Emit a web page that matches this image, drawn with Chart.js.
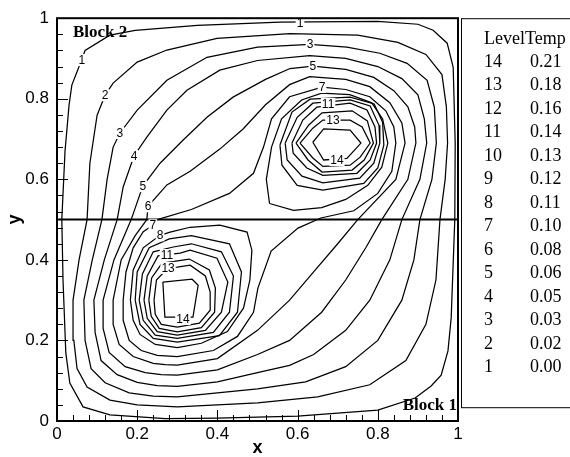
<!DOCTYPE html>
<html lang="en">
<head>
<meta charset="UTF-8">
<title>Temperature contours</title>
<script src="https://cdn.jsdelivr.net/npm/chart.js"></script>
<style>
  body { margin: 0; background: #fff; }
  #chart { display: block; }
</style>
</head>
<body>
<canvas id="chart" width="570" height="457"></canvas>
<script>
// contour lines, [x, y] pairs
const level1 = [[0.012,0.5],[0.02,0.67],[0.03,0.784],[0.037,0.834],[0.057,0.885],[0.07,0.92],[0.132,0.958],[0.195,0.97],[0.35,0.982],[0.556,0.99],[0.8,0.992],[0.9,0.985],[0.938,0.97],[0.973,0.938],[0.988,0.878],[0.993,0.69],[0.992,0.5],[0.983,0.256],[0.975,0.174],[0.958,0.114],[0.933,0.087],[0.893,0.057],[0.8,0.027],[0.6,0.012],[0.4,0.007],[0.27,0.006],[0.132,0.015],[0.065,0.035],[0.032,0.094],[0.022,0.169],[0.015,0.35],[0.012,0.5]];
const level2 = [[0.075,0.5],[0.082,0.64],[0.1,0.759],[0.12,0.809],[0.14,0.839],[0.2,0.891],[0.274,0.921],[0.399,0.95],[0.581,0.962],[0.75,0.958],[0.85,0.94],[0.92,0.91],[0.96,0.86],[0.971,0.78],[0.974,0.69],[0.968,0.6],[0.955,0.5],[0.945,0.35],[0.92,0.24],[0.87,0.15],[0.78,0.09],[0.65,0.06],[0.5,0.045],[0.3,0.035],[0.2,0.04],[0.132,0.052],[0.075,0.084],[0.05,0.13],[0.042,0.2],[0.04,0.3],[0.055,0.4],[0.075,0.5]];
const level3 = [[0.112,0.5],[0.125,0.6],[0.14,0.68],[0.157,0.715],[0.2,0.772],[0.274,0.846],[0.374,0.903],[0.5,0.928],[0.631,0.935],[0.723,0.928],[0.805,0.913],[0.873,0.888],[0.923,0.846],[0.941,0.779],[0.946,0.69],[0.935,0.6],[0.905,0.5],[0.89,0.4],[0.86,0.3],[0.8,0.2],[0.72,0.135],[0.62,0.097],[0.5,0.08],[0.3,0.06],[0.24,0.062],[0.18,0.07],[0.12,0.095],[0.085,0.13],[0.07,0.2],[0.067,0.3],[0.088,0.4],[0.112,0.5]];
const level4 = [[0.15,0.5],[0.165,0.581],[0.192,0.658],[0.224,0.705],[0.274,0.772],[0.324,0.821],[0.406,0.871],[0.5,0.895],[0.63,0.907],[0.72,0.9],[0.8,0.88],[0.86,0.85],[0.9,0.81],[0.916,0.75],[0.922,0.69],[0.905,0.6],[0.86,0.5],[0.83,0.4],[0.78,0.3],[0.72,0.225],[0.64,0.165],[0.58,0.138],[0.5,0.12],[0.4,0.097],[0.3,0.086],[0.25,0.088],[0.2,0.096],[0.15,0.115],[0.11,0.15],[0.095,0.22],[0.092,0.3],[0.118,0.4],[0.15,0.5]];
const level5 = [[0.185,0.5],[0.214,0.583],[0.257,0.64],[0.314,0.697],[0.374,0.754],[0.439,0.804],[0.52,0.848],[0.581,0.875],[0.638,0.881],[0.72,0.873],[0.79,0.853],[0.84,0.82],[0.875,0.78],[0.892,0.73],[0.895,0.69],[0.875,0.6],[0.81,0.5],[0.77,0.43],[0.72,0.35],[0.66,0.27],[0.58,0.2],[0.5,0.165],[0.4,0.127],[0.3,0.114],[0.26,0.115],[0.22,0.12],[0.17,0.135],[0.13,0.17],[0.115,0.23],[0.115,0.3],[0.142,0.4],[0.185,0.5]];
const level6 = [[0.224,0.5],[0.227,0.533],[0.274,0.586],[0.332,0.62],[0.406,0.675],[0.464,0.725],[0.52,0.785],[0.58,0.835],[0.63,0.855],[0.72,0.848],[0.78,0.83],[0.83,0.79],[0.86,0.74],[0.868,0.69],[0.845,0.6],[0.75,0.5],[0.7,0.44],[0.64,0.37],[0.58,0.3],[0.5,0.225],[0.4,0.155],[0.3,0.139],[0.27,0.14],[0.24,0.143],[0.19,0.16],[0.155,0.19],[0.14,0.24],[0.14,0.3],[0.16,0.4],[0.195,0.46],[0.224,0.5]];
const level7 = [[0.25,0.5],[0.335,0.525],[0.43,0.565],[0.49,0.615],[0.515,0.68],[0.535,0.75],[0.58,0.805],[0.661,0.829],[0.72,0.823],[0.78,0.805],[0.82,0.77],[0.84,0.73],[0.845,0.69],[0.835,0.62],[0.8,0.565],[0.74,0.522],[0.658,0.504],[0.601,0.479],[0.534,0.422],[0.501,0.33],[0.49,0.27],[0.45,0.21],[0.39,0.175],[0.3,0.16],[0.25,0.163],[0.21,0.175],[0.18,0.2],[0.165,0.25],[0.165,0.3],[0.172,0.37],[0.19,0.43],[0.215,0.47],[0.239,0.486],[0.25,0.5]];
// upper hot spot
const level8up = [[0.53,0.54],[0.522,0.6],[0.535,0.68],[0.56,0.75],[0.61,0.797],[0.66,0.814],[0.73,0.81],[0.785,0.79],[0.812,0.75],[0.825,0.69],[0.81,0.63],[0.775,0.585],[0.72,0.55],[0.66,0.53],[0.59,0.523],[0.53,0.54]];
const level9up = [[0.556,0.685],[0.586,0.767],[0.631,0.799],[0.731,0.804],[0.791,0.787],[0.812,0.742],[0.815,0.685],[0.8,0.628],[0.765,0.59],[0.663,0.573],[0.599,0.585],[0.561,0.635],[0.556,0.685]];
const level10up = [[0.569,0.69],[0.599,0.754],[0.638,0.789],[0.731,0.797],[0.781,0.782],[0.803,0.734],[0.805,0.69],[0.79,0.64],[0.755,0.603],[0.663,0.591],[0.611,0.608],[0.574,0.648],[0.569,0.69]];
const level11up = [[0.586,0.69],[0.613,0.747],[0.648,0.779],[0.731,0.789],[0.773,0.772],[0.793,0.73],[0.797,0.69],[0.781,0.648],[0.748,0.615],[0.663,0.61],[0.623,0.628],[0.589,0.665],[0.586,0.69]];
const level12up = [[0.596,0.69],[0.628,0.735],[0.661,0.765],[0.736,0.77],[0.774,0.745],[0.789,0.69],[0.766,0.648],[0.736,0.623],[0.661,0.618],[0.626,0.648],[0.596,0.69]];
const level13up = [[0.606,0.69],[0.638,0.727],[0.663,0.747],[0.731,0.747],[0.761,0.73],[0.781,0.69],[0.756,0.655],[0.731,0.635],[0.663,0.632],[0.638,0.653],[0.606,0.69]];
const level14up = [[0.638,0.692],[0.665,0.725],[0.731,0.722],[0.758,0.69],[0.723,0.652],[0.665,0.648],[0.638,0.692]];
// lower hot spot
const level8low = [[0.183,0.3],[0.19,0.375],[0.215,0.43],[0.257,0.461],[0.282,0.469],[0.332,0.481],[0.406,0.486],[0.474,0.469],[0.486,0.424],[0.481,0.35],[0.465,0.28],[0.425,0.222],[0.36,0.193],[0.3,0.182],[0.245,0.19],[0.207,0.215],[0.19,0.25],[0.183,0.3]];
const level9low = [[0.195,0.3],[0.2,0.37],[0.23,0.43],[0.28,0.452],[0.335,0.46],[0.43,0.44],[0.46,0.37],[0.45,0.27],[0.405,0.212],[0.3,0.196],[0.24,0.205],[0.207,0.24],[0.195,0.3]];
const level10low = [[0.205,0.3],[0.213,0.365],[0.24,0.42],[0.29,0.432],[0.335,0.44],[0.41,0.42],[0.44,0.36],[0.43,0.27],[0.39,0.22],[0.3,0.205],[0.245,0.213],[0.215,0.25],[0.205,0.3]];
const level11low = [[0.217,0.3],[0.225,0.36],[0.252,0.41],[0.307,0.417],[0.332,0.424],[0.399,0.404],[0.426,0.345],[0.41,0.27],[0.37,0.225],[0.3,0.213],[0.25,0.222],[0.225,0.255],[0.217,0.3]];
const level12low = [[0.229,0.3],[0.236,0.355],[0.262,0.392],[0.33,0.402],[0.38,0.375],[0.395,0.33],[0.393,0.27],[0.36,0.232],[0.3,0.221],[0.255,0.23],[0.235,0.26],[0.229,0.3]];
const level13low = [[0.242,0.3],[0.248,0.35],[0.277,0.38],[0.3,0.382],[0.332,0.387],[0.37,0.36],[0.382,0.32],[0.382,0.275],[0.355,0.243],[0.3,0.233],[0.26,0.24],[0.245,0.265],[0.242,0.3]];
const level14low = [[0.264,0.345],[0.337,0.352],[0.352,0.337],[0.339,0.258],[0.269,0.258],[0.264,0.345]];

// block interface
const blockLine = [[0,0.5],[1,0.5]];

// contour labels
const labelText = ['1','2','3','4','5','6','7','8','11','13','14','1','3','5','7','11','13','14'];
const labelX = [0.062,0.12,0.157,0.192,0.214,0.227,0.239,0.257,0.274,0.277,0.314,0.606,0.631,0.638,0.661,0.676,0.688,0.698];
const labelY = [0.896,0.809,0.715,0.658,0.583,0.533,0.486,0.461,0.412,0.38,0.253,0.988,0.935,0.881,0.829,0.787,0.747,0.648];

// legend table
const levelNames = ['14','13','12','11','10','9','8','7','6','5','4','3','2','1'];
const levelTemps = ['0.21','0.18','0.16','0.14','0.13','0.12','0.11','0.10','0.08','0.06','0.05','0.03','0.02','0.00'];

const majorTicks = [0, 0.2, 0.4, 0.6, 0.8, 1];
const minorStep = 0.04;

const contours = [level1, level2, level3, level4, level5, level6, level7,
  level8up, level9up, level10up, level11up, level12up, level13up, level14up,
  level8low, level9low, level10low, level11low, level12low, level13low, level14low];

function toXY(arr) {
  return arr.map(p => ({ x: p[0], y: p[1] }));
}

const datasets = contours.map(c => ({
  data: toXY(c),
  showLine: true,
  borderColor: '#000',
  borderWidth: 1.25,
  pointRadius: 0,
  tension: 0,
  fill: false
}));
datasets.push({
  data: toXY(blockLine),
  showLine: true,
  borderColor: '#000',
  borderWidth: 2,
  pointRadius: 0,
  fill: false
});

const sans = '"Liberation Sans", Arial, sans-serif';
const serif = '"Liberation Serif", "Times New Roman", serif';

// frame, inward ticks, labels on the lines, block names and legend
const decorPlugin = {
  id: 'decor',
  afterDatasetsDraw(chart) {
    const { ctx, chartArea: a, scales: { x, y } } = chart;
    ctx.save();

    ctx.font = '12px ' + sans;
    ctx.textAlign = 'center';
    ctx.textBaseline = 'middle';
    labelText.forEach((t, i) => {
      const px = x.getPixelForValue(labelX[i]);
      const py = y.getPixelForValue(labelY[i]);
      const w = ctx.measureText(t).width + 2;
      ctx.fillStyle = '#fff';
      ctx.fillRect(px - w / 2, py - 6, w, 12);
      ctx.fillStyle = '#000';
      ctx.fillText(t, px, py + 0.5);
    });

    ctx.strokeStyle = '#000';
    ctx.lineWidth = 1;
    ctx.beginPath();
    for (let k = 0; k <= 25; k++) {
      const v = k * minorStep;
      const major = majorTicks.some(m => Math.abs(m - v) < 1e-6);
      const len = major ? 11 : 6;
      const px = Math.round(x.getPixelForValue(v)) + 0.5;
      ctx.moveTo(px, a.bottom);
      ctx.lineTo(px, a.bottom - len);
      const py = Math.round(y.getPixelForValue(v)) + 0.5;
      ctx.moveTo(a.left, py);
      ctx.lineTo(a.left + len, py);
    }
    ctx.stroke();

    ctx.lineWidth = 2;
    ctx.strokeRect(a.left, a.top, a.right - a.left, a.bottom - a.top);

    ctx.font = 'bold 17px ' + serif;
    ctx.textBaseline = 'middle';
    ctx.textAlign = 'left';
    ctx.fillText('Block 2', a.left + 16, a.top + 14);
    ctx.textAlign = 'right';
    ctx.fillText('Block 1', a.right - 1, a.bottom - 15);

    // legend box
    ctx.lineWidth = 1;
    ctx.strokeRect(461.5, a.top + 0.5, 130, 389);
    ctx.font = '18px ' + serif;
    ctx.textAlign = 'left';
    ctx.fillText('LevelTemp', 484, 39);
    levelNames.forEach((n, i) => {
      const ry = 62 + i * 23.5;
      ctx.fillText(n, 484, ry);
      ctx.fillText(levelTemps[i], 530, ry);
    });
    ctx.restore();
  }
};

new Chart(document.getElementById('chart'), {
  type: 'scatter',
  data: { datasets: datasets },
  options: {
    responsive: false,
    animation: false,
    layout: { padding: { left: 0, right: 112, top: 18, bottom: 0 } },
    plugins: { legend: { display: false }, tooltip: { enabled: false } },
    scales: {
      x: {
        type: 'linear', min: 0, max: 1,
        afterFit: s => { s.height = 36; },
        grid: { display: false, drawTicks: false },
        border: { display: false },
        ticks: {
          stepSize: 0.2, maxRotation: 0, padding: 3, color: '#000',
          font: { family: sans, size: 17 },
          callback: v => String(Math.round(v * 10) / 10)
        },
        title: { display: true, text: 'x', color: '#000', padding: 0,
          font: { family: sans, size: 18, weight: 'bold', lineHeight: 1 } }
      },
      y: {
        type: 'linear', min: 0, max: 1,
        afterFit: s => { s.width = 57; },
        grid: { display: false, drawTicks: false },
        border: { display: false },
        ticks: {
          stepSize: 0.2, padding: 8, color: '#000',
          font: { family: sans, size: 17 },
          callback: v => String(Math.round(v * 10) / 10)
        },
        title: { display: true, text: 'y', color: '#000', padding: { top: 6, bottom: 0 },
          font: { family: sans, size: 18, weight: 'bold', lineHeight: 1 } }
      }
    }
  },
  plugins: [decorPlugin]
});
</script>
</body>
</html>
